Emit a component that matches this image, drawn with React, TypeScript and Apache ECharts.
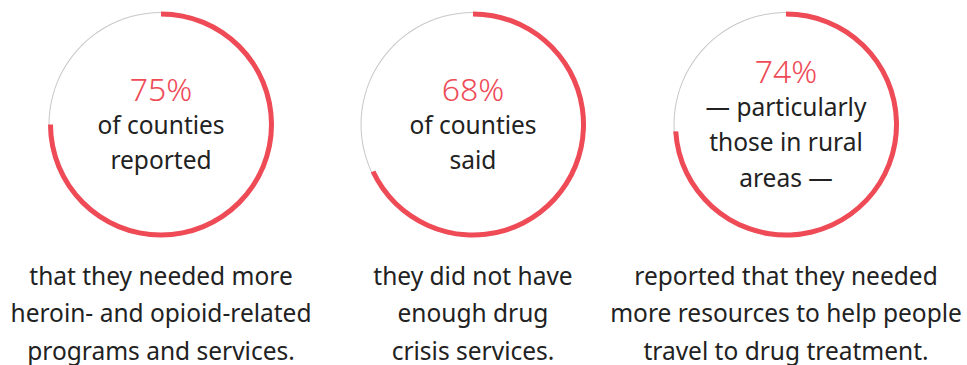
import React, { useEffect, useRef } from "react";
import * as echarts from "echarts";

const percents = [75, 68, 74];
const percentLabels = ["75%", "68%", "74%"];
const innerLines = [
  ["of counties", "reported"],
  ["of counties", "said"],
  ["— particularly", "those in rural", "areas —"],
];
const bottomLines = [
  ["that they needed more", "heroin- and opioid-related", "programs and services."],
  ["they did not have", "enough drug", "crisis services."],
  ["reported that they needed", "more resources to help people", "travel to drug treatment."],
];

const RED = "#ee4b57";
const GRAY = "#c8c8c8";
const DARK = "#222222";
const FONT = "Noto Sans";

export default function App() {
  const ref = useRef<HTMLDivElement>(null);
  useEffect(() => {
    document.body.style.margin = "0";
    const chart = echarts.init(ref.current!, null, { renderer: "svg" });
    const centersX = [161, 473, 786];
    const cy = 124.5;
    const series: any[] = [];
    const graphic: any[] = [];
    percents.forEach((p, i) => {
      series.push({
        type: "pie",
        silent: true,
        center: [centersX[i], cy],
        radius: [111.5, 112.5],
        label: { show: false },
        labelLine: { show: false },
        itemStyle: { color: GRAY },
        data: [{ value: 100 }],
      });
      series.push({
        type: "pie",
        silent: true,
        center: [centersX[i], cy],
        radius: [108, 113],
        startAngle: 90,
        clockwise: true,
        label: { show: false },
        labelLine: { show: false },
        data: [
          { value: p, itemStyle: { color: RED } },
          { value: 100 - p, itemStyle: { color: "transparent" } },
        ],
      });
      const lines = innerLines[i];
      const lh = 35.5;
      const total = lines.length + 1;
      const startY = cy - ((total - 1) * lh) / 2 - 0.5;
      graphic.push({
        type: "text",
        x: centersX[i],
        y: startY,
        style: {
          text: percentLabels[i],
          fill: RED,
          font: `300 32px "${FONT}"`,
          textAlign: "center",
          textVerticalAlign: "middle",
        },
      });
      lines.forEach((t, j) => {
        graphic.push({
          type: "text",
          x: centersX[i],
          y: startY + lh * (j + 1),
          style: {
            text: t,
            fill: DARK,
            font: `24.5px "${FONT}"`,
            textAlign: "center",
            textVerticalAlign: "middle",
          },
        });
      });
      bottomLines[i].forEach((t, j) => {
        graphic.push({
          type: "text",
          x: centersX[i],
          y: 275 + 37.5 * j,
          style: {
            text: t,
            fill: DARK,
            font: `24.5px "${FONT}"`,
            textAlign: "center",
            textVerticalAlign: "middle",
          },
        });
      });
    });
    chart.setOption({
      animation: false,
      backgroundColor: "#ffffff",
      series,
      graphic,
    });
    return () => chart.dispose();
  }, []);
  return <div ref={ref} style={{ width: 967, height: 365 }} />;
}
